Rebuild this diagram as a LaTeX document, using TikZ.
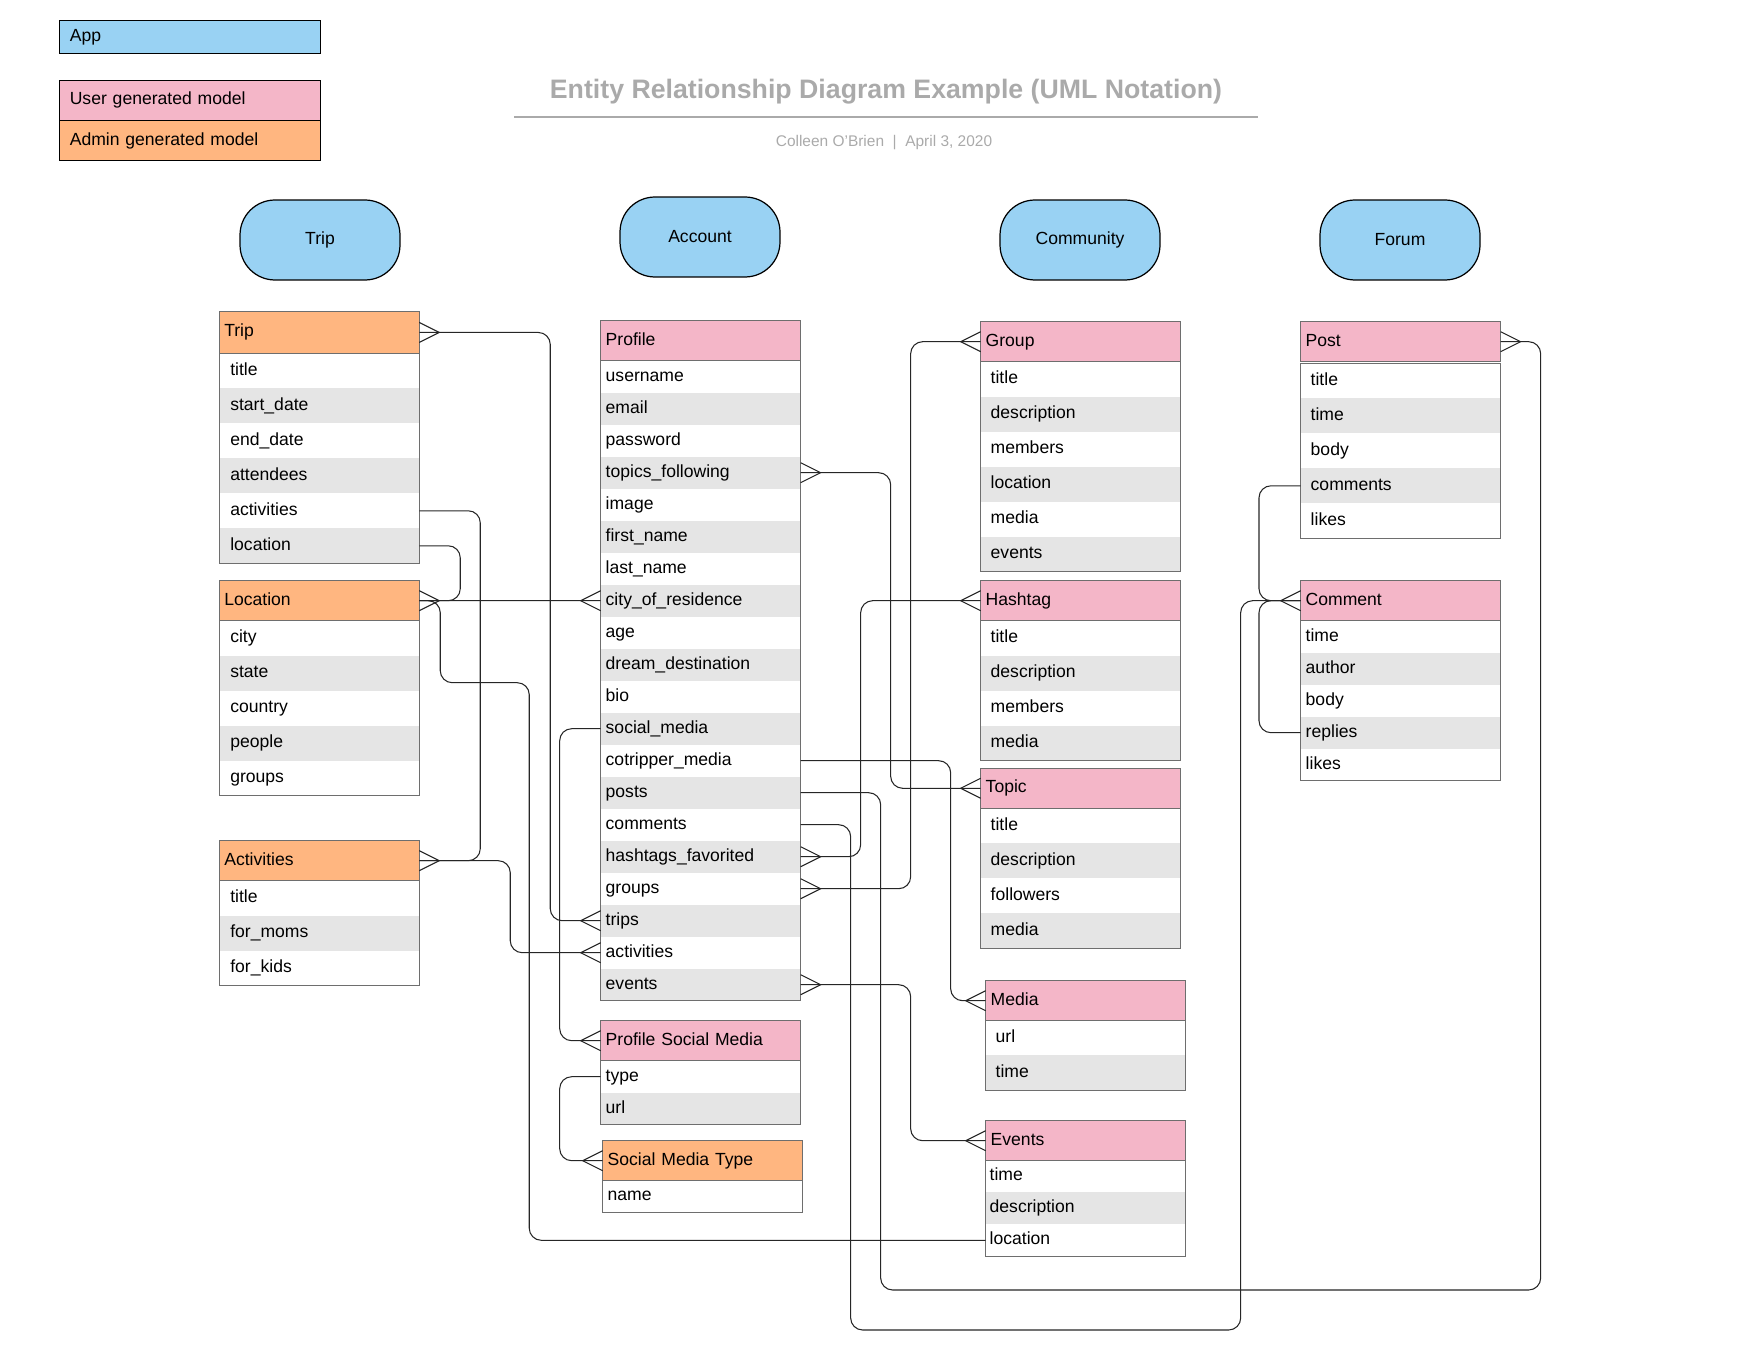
\documentclass[tikz,border=0pt]{standalone}
\usepackage{fontspec}
\setmainfont{Liberation Sans}
\definecolor{appblue}{RGB}{153,210,243}
\definecolor{userpink}{RGB}{244,182,200}
\definecolor{adminorange}{RGB}{255,182,128}
\definecolor{rowgray}{RGB}{229,229,229}
\definecolor{tblline}{RGB}{110,110,110}
\definecolor{titlegray}{RGB}{170,170,170}
\begin{document}
\begin{tikzpicture}[x=0.02cm, y=-0.02cm,
        entity/.style={draw=tblline, line width=0.7pt, anchor=north west, outer sep=0pt,
          inner ysep=0pt, inner xsep=0.1cm, text width=3.8cm, align=left, minimum height=0.8cm,
          text height=0.72em, text depth=0.22em},
        attr/.style 2 args={anchor=north west, outer sep=0pt, inner ysep=0pt,
          inner xsep=#1, text width=#2, align=left, text height=0.72em, text depth=0.22em},
        border/.style={draw=tblline, line width=0.7pt},
        relation/.style={black!85, line width=0.6pt, rounded corners=0.24cm},
        app/.style={draw=black, line width=0.7pt, fill=appblue, rounded corners=0.7cm,
          minimum width=3.2cm, minimum height=1.6cm, outer sep=0pt},
        legend/.style={draw=black, line width=0.7pt, anchor=north west, minimum width=5.23cm,
          inner xsep=0.21cm, text width=4.81cm, align=left, inner ysep=0pt, outer sep=0pt,
          text height=0.72em, text depth=0.22em},
        crowR/.pic={\draw[relation, sharp corners] (0,-10) -- (20,0) -- (0,10);},
        crowL/.pic={\draw[relation, sharp corners] (0,-10) -- (-20,0) -- (0,10);}]
        \useasboundingbox (0,0) rectangle (1758,1358);

        % Legend
        \node[legend, fill=appblue, minimum height=0.65cm] (legApp) at (59.3,20.7) {App};
        \node[legend, fill=userpink, minimum height=0.81cm] (legUser) at (59.3,80.3) {User generated model};
        \node[legend, fill=adminorange, minimum height=0.8cm] (legAdmin) at (59.3,120.7) {Admin generated model};

        % Title
        \node[font=\fontsize{15.2}{18}\selectfont\bfseries, text=titlegray] (title) at (886,91.5)
          {Entity Relationship Diagram Example (UML Notation)};
        \draw[titlegray, line width=1.1pt] (514,116.7) -- (1257.6,116.7);
        \node[font=\fontsize{8.8}{11}\selectfont, text=titlegray] (subtitle) at (884,143)
          {Colleen O'Brien\ \ |\ \ April 3, 2020};

        % Apps
        \node[app] (appTrip) at (320,240) {Trip};
        \node[app] (appAccount) at (700,237) {Account};
        \node[app] (appCommunity) at (1080,240) {Community};
        \node[app] (appForum) at (1400,240) {Forum};

        % Trip app
        \node[entity, fill=adminorange, minimum height=0.83cm] (tripH) at (219.3,311.7) {Trip};
        \foreach \t [count=\i] in {title, start\_date, end\_date, attendees, activities, location} {
          \ifodd\i \def\rc{white}\else \def\rc{rowgray}\fi
          \node[attr={0.22cm}{3.56cm}, minimum height=0.7cm, fill=\rc] (trip\i) at (219.3,{353.3+35*(\i-1)}) {\t};
        }
        \draw[border] (trip1.north west) rectangle (trip6.south east);

        \node[entity, fill=adminorange] (locH) at (219.3,580.7) {Location};
        \foreach \t [count=\i] in {city, state, country, people, groups} {
          \ifodd\i \def\rc{white}\else \def\rc{rowgray}\fi
          \node[attr={0.22cm}{3.56cm}, minimum height=0.7cm, fill=\rc] (loc\i) at (219.3,{620.7+35*(\i-1)}) {\t};
        }
        \draw[border] (loc1.north west) rectangle (loc5.south east);

        \node[entity, fill=adminorange] (actH) at (219.3,840.7) {Activities};
        \foreach \t [count=\i] in {title, for\_moms, for\_kids} {
          \ifodd\i \def\rc{white}\else \def\rc{rowgray}\fi
          \node[attr={0.22cm}{3.56cm}, minimum height=0.7cm, fill=\rc] (act\i) at (219.3,{880.7+35*(\i-1)}) {\t};
        }
        \draw[border] (act1.north west) rectangle (act3.south east);

        % Account app
        \node[entity, fill=userpink] (profH) at (600.7,320.7) {Profile};
        \foreach \t [count=\i] in {username, email, password, topics\_following, image, first\_name,
            last\_name, city\_of\_residence, age, dream\_destination, bio, social\_media, cotripper\_media,
            posts, comments, hashtags\_favorited, groups, trips, activities, events} {
          \ifodd\i \def\rc{white}\else \def\rc{rowgray}\fi
          \node[attr={0.1cm}{3.8cm}, minimum height=0.64cm, fill=\rc] (prof\i) at (600.7,{360.7+32*(\i-1)}) {\t};
        }
        \draw[border] (prof1.north west) rectangle (prof20.south east);

        \node[entity, fill=userpink] (psmH) at (600.7,1020.7) {Profile Social Media};
        \foreach \t [count=\i] in {type, url} {
          \ifodd\i \def\rc{white}\else \def\rc{rowgray}\fi
          \node[attr={0.1cm}{3.8cm}, minimum height=0.64cm, fill=\rc] (psm\i) at (600.7,{1060.7+32*(\i-1)}) {\t};
        }
        \draw[border] (psm1.north west) rectangle (psm2.south east);

        \node[entity, fill=adminorange] (smtH) at (602.7,1140.7) {Social Media Type};
        \node[attr={0.1cm}{3.8cm}, minimum height=0.63cm, fill=white] (smt1) at (602.7,1180.7) {name};
        \draw[border] (smt1.north west) rectangle (smt1.south east);

        % Community app
        \node[entity, fill=userpink] (grpH) at (980.7,321.7) {Group};
        \foreach \t [count=\i] in {title, description, members, location, media, events} {
          \ifodd\i \def\rc{white}\else \def\rc{rowgray}\fi
          \node[attr={0.2cm}{3.6cm}, minimum height=0.7cm, fill=\rc] (grp\i) at (980.7,{361.7+35*(\i-1)}) {\t};
        }
        \draw[border] (grp1.north west) rectangle (grp6.south east);

        \node[entity, fill=userpink] (hashH) at (980.7,580.7) {Hashtag};
        \foreach \t [count=\i] in {title, description, members, media} {
          \ifodd\i \def\rc{white}\else \def\rc{rowgray}\fi
          \node[attr={0.2cm}{3.6cm}, minimum height=0.7cm, fill=\rc] (hash\i) at (980.7,{620.7+35*(\i-1)}) {\t};
        }
        \draw[border] (hash1.north west) rectangle (hash4.south east);

        \node[entity, fill=userpink] (topicH) at (980.7,768.3) {Topic};
        \foreach \t [count=\i] in {title, description, followers, media} {
          \ifodd\i \def\rc{white}\else \def\rc{rowgray}\fi
          \node[attr={0.2cm}{3.6cm}, minimum height=0.7cm, fill=\rc] (topic\i) at (980.7,{808.3+35*(\i-1)}) {\t};
        }
        \draw[border] (topic1.north west) rectangle (topic4.south east);

        \node[entity, fill=userpink] (mediaH) at (985.7,980.7) {Media};
        \foreach \t [count=\i] in {url, time} {
          \ifodd\i \def\rc{white}\else \def\rc{rowgray}\fi
          \node[attr={0.2cm}{3.6cm}, minimum height=0.7cm, fill=\rc] (media\i) at (985.7,{1020.3+35*(\i-1)}) {\t};
        }
        \draw[border] (media1.north west) rectangle (media2.south east);

        \node[entity, fill=userpink] (evtH) at (985.7,1120.7) {Events};
        \foreach \t [count=\i] in {time, description, location} {
          \ifodd\i \def\rc{white}\else \def\rc{rowgray}\fi
          \node[attr={0.08cm}{3.84cm}, minimum height=0.64cm, fill=\rc] (evt\i) at (985.7,{1160.3+32*(\i-1)}) {\t};
        }
        \draw[border] (evt1.north west) rectangle (evt3.south east);

        % Forum app
        \node[entity, fill=userpink] (postH) at (1300.7,321.7) {Post};
        \foreach \t [count=\i] in {title, time, body, comments, likes} {
          \ifodd\i \def\rc{white}\else \def\rc{rowgray}\fi
          \node[attr={0.2cm}{3.6cm}, minimum height=0.7cm, fill=\rc] (post\i) at (1300.7,{363.3+35*(\i-1)}) {\t};
        }
        \draw[border] (post1.north west) rectangle (post5.south east);

        \node[entity, fill=userpink] (cmtH) at (1300.7,580.7) {Comment};
        \foreach \t [count=\i] in {time, author, body, replies, likes} {
          \ifodd\i \def\rc{white}\else \def\rc{rowgray}\fi
          \node[attr={0.1cm}{3.8cm}, minimum height=0.64cm, fill=\rc] (cmt\i) at (1300.7,{620.7+32*(\i-1)}) {\t};
        }
        \draw[border] (cmt1.north west) rectangle (cmt5.south east);

        % Edges
        \draw[relation] (tripH.east) -- ++(131,0) |- (prof18.west);
        \draw[relation] (trip5.east) -- ++(61,0) |- (actH.east);
        \draw[relation] (actH.east) -- ++(91,0) |- (prof19.west);
        \draw[relation] (trip6.east) -- ++(41,0) |- (locH.east);
        \draw[relation] (locH.east) -- (prof8.west);
        \draw[relation] (locH.east) -- ++(21,0) |- ++(89,82) |- (evt3.west);
        \draw[relation] (prof12.west) -- ++(-41,0) |- (psmH.west);
        \draw[relation] (psm1.west) -- ++(-41,0) |- (smtH.west);
        \draw[relation] (prof4.east) -- ++(90,0) |- (topicH.west);
        \draw[relation] (prof16.east) -- ++(60,0) |- (hashH.west);
        \draw[relation] (prof17.east) -- ++(110,0) |- (grpH.west);
        \draw[relation] (prof13.east) -- ++(150,0) |- (mediaH.west);
        \draw[relation] (prof20.east) -- ++(110,0) |- (evtH.west);
        \draw[relation] (prof14.east) -- ++(80,0) |- ++(660,497.3) |- (postH.east);
        \draw[relation] (prof15.east) -- ++(50,0) |- ++(390,505.3) |- (cmtH.west);
        \draw[relation] (post4.west) -- ++(-41.7,0) |- (cmtH.west);
        \draw[relation] (cmt4.west) -- ++(-41.7,0) |- (cmtH.west);

        % Crow's feet
        \foreach \p in {tripH, actH, locH, prof4, prof16, prof17, prof20, postH}
          \pic at (\p.east) {crowR};
        \foreach \p in {prof18, prof19, prof8, psmH, smtH, topicH, hashH, grpH, mediaH, evtH, cmtH}
          \pic at (\p.west) {crowL};
    \end{tikzpicture}
\end{document}
